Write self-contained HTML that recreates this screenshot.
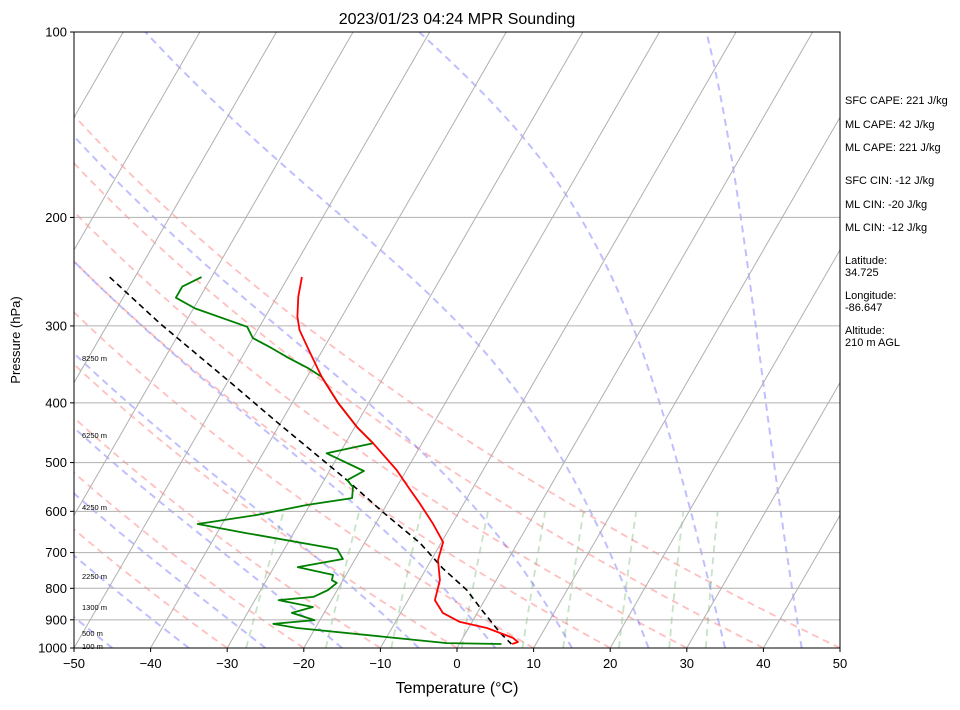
<!DOCTYPE html>
<html><head><meta charset="utf-8"><style>
body{margin:0;background:#fff;}
svg text{font-family:"Liberation Sans","DejaVu Sans",sans-serif;}
</style></head><body>
<svg id="chart" width="960" height="705" xmlns="http://www.w3.org/2000/svg">
<defs><clipPath id="plotclip"><rect x="74" y="32" width="766" height="616"/></clipPath></defs>
<rect x="0" y="0" width="960" height="705" fill="#fff"/>
<g id="bg" clip-path="url(#plotclip)"></g>
<g id="grid" clip-path="url(#plotclip)"></g>
<g id="series" clip-path="url(#plotclip)"></g>
<rect x="74" y="32" width="766" height="616" fill="none" stroke="#000" stroke-width="1"/>
<g id="axes"></g>
<text x="457" y="24" font-size="16" text-anchor="middle">2023/01/23 04:24 MPR Sounding</text>
<text x="457" y="693" font-size="16" text-anchor="middle">Temperature (°C)</text>
<text x="20" y="340" font-size="13" text-anchor="middle" transform="rotate(-90 20 340)">Pressure (hPa)</text>
<g font-size="11">
<text x="845" y="104">SFC CAPE: 221 J/kg</text>
<text x="845" y="128">ML CAPE: 42 J/kg</text>
<text x="845" y="151">ML CAPE: 221 J/kg</text>
<text x="845" y="184">SFC CIN: -12 J/kg</text>
<text x="845" y="208">ML CIN: -20 J/kg</text>
<text x="845" y="231">ML CIN: -12 J/kg</text>
<text x="845" y="264">Latitude:</text>
<text x="845" y="276">34.725</text>
<text x="845" y="299">Longitude:</text>
<text x="845" y="311">-86.647</text>
<text x="845" y="334">Altitude:</text>
<text x="845" y="346">210 m AGL</text>
</g>
<g font-size="7.5">
<text x="82" y="361">8250 m</text>
<text x="82" y="438">6250 m</text>
<text x="82" y="510">4250 m</text>
<text x="82" y="579">2250 m</text>
<text x="82" y="610">1300 m</text>
<text x="82" y="636">500 m</text>
<text x="82" y="649">100 m</text>
</g>
</svg>
<script>
const tempP=[250,269,290,305,332,363,400,438,465,514,554,582,627,673,720,776,836,877,907,928,963,978,985];
const tempT=[-48.2,-47.2,-45.8,-44.5,-41.4,-38.1,-34.0,-29.7,-26.4,-21.3,-18.0,-15.8,-12.6,-9.8,-9.1,-7.35,-6.5,-4.5,-1.6,2.4,6.55,7.5,6.9];
const dewP=[250,259,270,281,301,314,326,338,351,363,400,438,465,483,516,534,548,571,586,608,629,651,691,717,739,761,776,784,805,826,836,858,877,901,914,928,982,985];
const dewT=[-61.3,-63.1,-63.1,-59.8,-51.6,-50.0,-46.8,-43.9,-40.6,-38.1,-34.0,-29.7,-26.4,-31.7,-25.5,-27.0,-25.7,-25.0,-30.4,-36.1,-43.2,-36.1,-23.1,-21.6,-26.9,-21.7,-21.45,-20.6,-21.2,-22.6,-26.9,-21.9,-24.2,-20.7,-25.8,-22.4,-1.7,5.5];
const parcelP=[250,297,367,430,534,602,676,742,805,868,945,985];
const parcelT=[-73.3,-63.3,-50.2,-40.5,-27.0,-19.9,-12.7,-7.9,-3.1,0.4,4.5,6.8];
const pTicks=[100,200,300,400,500,600,700,800,900,1000];
const tTicks=[-50,-40,-30,-20,-10,0,10,20,30,40,50];
const dryTheta=[-30,-20,-10,0,10,20,30,40,50];
const moistT0=[-45,-35,-25,-15,-5,5,15,25,35,45];
const mixW=[0.0004,0.001,0.002,0.004,0.007,0.01,0.016,0.024,0.032];
const isoT=[-150,-140,-130,-120,-110,-100,-90,-80,-70,-60,-50,-40,-30,-20,-10,0,10,20,30,40,50];

const NS='http://www.w3.org/2000/svg';
const X0=74,X1=840,Y0=32,Y1=648;
const pxPerC=(X1-X0)/100, skew=0.5774;
function yOf(p){return Y1-Math.log10(1000/p)*(Y1-Y0);}
function xOf(T,p){return X0+(T+50)*pxPerC+(Y1-yOf(p))*skew;}
function mk(parent,tag,attrs){const e=document.createElementNS(NS,tag);for(const k in attrs)e.setAttribute(k,attrs[k]);parent.appendChild(e);return e;}
function pathFrom(ps,ts){return ps.map((p,i)=>(i?'L':'M')+xOf(ts[i],p).toFixed(1)+','+yOf(p).toFixed(1)).join('');}
const bg=document.getElementById('bg'),grid=document.getElementById('grid'),series=document.getElementById('series'),axes=document.getElementById('axes');

const levels=[];for(let p=1000;p>=100;p-=10)levels.push(p);
dryTheta.forEach(th=>{
  const ts=levels.map(p=>(th+273.15)*Math.pow(p/1000,0.2857)-273.15);
  const e=mk(bg,'path',{d:pathFrom(levels,ts),fill:'none',stroke:'rgba(255,0,0,0.25)','stroke-width':1.8,'stroke-dasharray':'7,5'});
  
  
});
function es(T){return 6.112*Math.exp(17.67*T/(T+243.5));}
moistT0.forEach(t0=>{
  const ps=[],ts=[];let T=t0+273.15;
  for(let p=1000;p>=100;p-=2){
    ps.push(p);ts.push(T-273.15);
    const rs=0.622*es(T-273.15)/(p-es(T-273.15));
    const Lv=2.501e6,Rd=287.04,Cp=1005.7;
    const dTdp=(Rd*T+Lv*rs)/(Cp+Lv*Lv*rs*0.622/(Rd*T*T))/p;
    T-=dTdp*2;
  }
  const e=mk(bg,'path',{d:pathFrom(ps,ts),fill:'none',stroke:'rgba(0,0,255,0.25)','stroke-width':2,'stroke-dasharray':'7,5'});
  
  
});
mixW.forEach(w=>{
  const ps=[],ts=[];
  for(let p=1000;p>=600;p-=20){const e_=w*p/(0.622+w);const l=Math.log(e_/6.112);ps.push(p);ts.push(243.5*l/(17.67-l));}
  const e=mk(bg,'path',{d:pathFrom(ps,ts),fill:'none',stroke:'rgba(0,128,0,0.22)','stroke-width':1.8,'stroke-dasharray':'7,5'});
  
  
});
isoT.forEach(t=>{
  const e=mk(grid,'line',{x1:xOf(t,1000),y1:yOf(1000),x2:xOf(t,100),y2:yOf(100),stroke:'#b0b0b0','stroke-width':1});
  
  
});
pTicks.forEach(p=>{
  const e=mk(grid,'line',{x1:X0,y1:yOf(p),x2:X1,y2:yOf(p),stroke:'#b0b0b0','stroke-width':1});
  
  
});
let e=mk(series,'path',{d:pathFrom(parcelP,parcelT),fill:'none',stroke:'#000','stroke-width':1.6,'stroke-dasharray':'6,4'});


e=mk(series,'path',{d:pathFrom(dewP,dewT),fill:'none',stroke:'#008000','stroke-width':1.8,'stroke-linejoin':'round'});


e=mk(series,'path',{d:pathFrom(tempP,tempT),fill:'none',stroke:'#ff0000','stroke-width':1.8,'stroke-linejoin':'round'});


pTicks.forEach(p=>{
  const y=yOf(p);
  const t=mk(axes,'line',{x1:X0-4,y1:y,x2:X0,y2:y,stroke:'#000'});
  
  
  const l=mk(axes,'text',{x:X0-7,y:y+4.5,'font-size':13,'text-anchor':'end'});
  l.textContent=p;
  
  
});
tTicks.forEach(T=>{
  const x=xOf(T,1000);
  const t=mk(axes,'line',{x1:x,y1:Y1,x2:x,y2:Y1+4,stroke:'#000'});
  
  
  const l=mk(axes,'text',{x:x,y:Y1+20,'font-size':13,'text-anchor':'middle'});
  l.textContent=(T<0?'\u2212'+(-T):T);
  
  
});
</script>
</body></html>
